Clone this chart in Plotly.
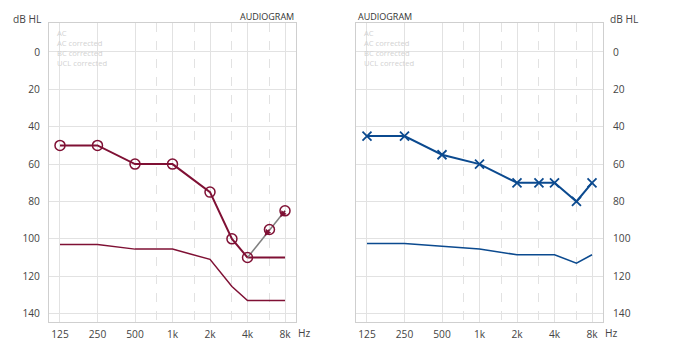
import plotly.graph_objects as go
import math

# ---- data ----
freq_ticks = [125, 250, 500, 1000, 2000, 4000, 8000]
freq_tick_labels = ["125", "250", "500", "1k", "2k", "4k", "8k"]
half_octaves = [750, 1500, 3000, 6000]
db_ticks = [0, 20, 40, 60, 80, 100, 120, 140]
legend_labels = ["AC", "AC corrected", "BC corrected", "UCL corrected"]

left_ac_freq = [125, 250, 500, 1000, 2000, 3000, 4000]
left_ac_db = [50, 50, 60, 60, 75, 100, 110]
left_nr_freq = [4000, 8000]
left_nr_db = [110, 110]
left_corr_freq = [4000, 6000, 8000]
left_corr_db = [110, 95, 85]
left_ucl_freq = [125, 250, 500, 1000, 2000, 3000, 4000, 8000]
left_ucl_db = [103, 103, 105.5, 105.5, 111, 125.5, 133, 133]

right_ac_freq = [125, 250, 500, 1000, 2000, 3000, 4000, 6000, 8000]
right_ac_db = [45, 45, 55, 60, 70, 70, 70, 80, 70]
right_ucl_freq = [125, 250, 500, 1000, 2000, 4000, 6000, 8000]
right_ucl_db = [102.5, 102.5, 104, 105.5, 108.5, 108.5, 113, 108.5]

RED = "#7f1034"
BLUE = "#0b4a8f"
GRAY = "#808080"
FONT = "Open Sans"
TICK = 10.2

fig = go.Figure()

# left
fig.add_trace(go.Scatter(x=left_ucl_freq, y=left_ucl_db, mode="lines",
                         line=dict(color=RED, width=1.5), xaxis="x", yaxis="y"))
fig.add_trace(go.Scatter(x=left_nr_freq, y=left_nr_db, mode="lines",
                         line=dict(color=RED, width=2), xaxis="x", yaxis="y"))
fig.add_trace(go.Scatter(x=left_corr_freq, y=left_corr_db, mode="lines",
                         line=dict(color=GRAY, width=1.5), xaxis="x", yaxis="y"))
fig.add_trace(go.Scatter(x=left_corr_freq[1:], y=left_corr_db[1:], mode="markers",
                         marker=dict(symbol="circle-open", size=10, color=RED,
                                     line=dict(width=1.5, color=RED)),
                         xaxis="x", yaxis="y"))
fig.add_trace(go.Scatter(x=left_ac_freq, y=left_ac_db, mode="lines+markers",
                         line=dict(color=RED, width=2),
                         marker=dict(symbol="circle-open", size=10, color=RED,
                                     line=dict(width=1.5, color=RED)),
                         xaxis="x", yaxis="y"))

# right
fig.add_trace(go.Scatter(x=right_ucl_freq, y=right_ucl_db, mode="lines",
                         line=dict(color=BLUE, width=1.5), xaxis="x2", yaxis="y2"))
fig.add_trace(go.Scatter(x=right_ac_freq, y=right_ac_db, mode="lines+markers",
                         line=dict(color=BLUE, width=2),
                         marker=dict(symbol="x-thin", size=9, color=BLUE,
                                     line=dict(width=1.8, color=BLUE)),
                         xaxis="x2", yaxis="y2"))

W, H = 690, 348
xr = [math.log10(125) - 0.293 * math.log10(2), math.log10(8000) + 0.293 * math.log10(2)]
ydom = [1 - 322 / H, 1 - 23 / H]

def xaxis(dom, anchor):
    return dict(domain=dom, anchor=anchor, type="log", range=xr,
                tickmode="array", tickvals=freq_ticks, ticktext=freq_tick_labels,
                showgrid=True, gridcolor="#e2e2e2", gridwidth=1,
                minor=dict(tickmode="array", tickvals=half_octaves, showgrid=True,
                           gridcolor="#e2e2e2", griddash="dash", ticks=""),
                showline=True, linecolor="#cfcfcf", mirror=True, zeroline=False,
                ticks="", ticklabelstandoff=3,
                tickfont=dict(family=FONT, size=TICK, color="#444"), fixedrange=True)

def yaxis(dom, anchor, side):
    return dict(domain=dom, anchor=anchor, range=[144.5, -15.5], side=side,
                tickmode="array", tickvals=db_ticks,
                showgrid=True, gridcolor="#e2e2e2", gridwidth=1,
                showline=True, linecolor="#cfcfcf", mirror=True, zeroline=False,
                ticks="", ticklabelstandoff=6 if side == "left" else 7,
                tickfont=dict(family=FONT, size=TICK, color="#444"), fixedrange=True)

x1 = [49 / W, 296 / W]
x2 = [356 / W, 603 / W]

legend_text = "<br>".join(legend_labels)
annotations = []
for xref, yref in (("x domain", "y domain"), ("x2 domain", "y2 domain")):
    annotations.append(dict(text=legend_text, xref=xref, yref=yref, x=0.03,
                            y=1 - 4 / 299, xanchor="left", yanchor="top", align="left",
                            showarrow=False, borderpad=0,
                            font=dict(family=FONT, size=7.6, color="#d2d2d2")))

# direction arrows on the corrected (gray) segment, just below-left of each circle
for fx, fy in zip(left_corr_freq[1:], left_corr_db[1:]):
    annotations.append(dict(x=math.log10(fx), y=fy, xref="x", yref="y", text="",
                            showarrow=True, arrowside="start", startarrowhead=2,
                            startarrowsize=1, arrowwidth=1.3, arrowcolor=RED,
                            ax=-6, ay=8, standoff=0, startstandoff=0))

annotations += [
    dict(text="AUDIOGRAM", xref="paper", yref="paper", x=x1[1], y=1 - 17 / H,
         xanchor="right", yanchor="middle", showarrow=False,
         font=dict(family=FONT, size=9, color="#333")),
    dict(text="AUDIOGRAM", xref="paper", yref="paper", x=x2[0], y=1 - 17 / H,
         xanchor="left", yanchor="middle", showarrow=False,
         font=dict(family=FONT, size=9, color="#333")),
    dict(text="dB HL", xref="paper", yref="paper", x=44 / W, y=1 - 19 / H,
         xanchor="right", yanchor="middle", showarrow=False,
         font=dict(family=FONT, size=TICK, color="#444")),
    dict(text="dB HL", xref="paper", yref="paper", x=608 / W, y=1 - 19 / H,
         xanchor="left", yanchor="middle", showarrow=False,
         font=dict(family=FONT, size=TICK, color="#444")),
    dict(text="Hz", xref="paper", yref="paper", x=296 / W, y=1 - 333 / H,
         xanchor="left", yanchor="middle", showarrow=False,
         font=dict(family=FONT, size=TICK, color="#444")),
    dict(text="Hz", xref="paper", yref="paper", x=603 / W, y=1 - 333 / H,
         xanchor="left", yanchor="middle", showarrow=False,
         font=dict(family=FONT, size=TICK, color="#444")),
]

fig.update_layout(
    width=W, height=H, margin=dict(l=0, r=0, t=0, b=0, pad=0),
    paper_bgcolor="white", plot_bgcolor="white", showlegend=False,
    font=dict(family=FONT),
    xaxis=xaxis(x1, "y"), yaxis=yaxis(ydom, "x", "left"),
    xaxis2=xaxis(x2, "y2"), yaxis2=yaxis(ydom, "x2", "right"),
    annotations=annotations,
)

fig.write_html("out.html", config={"displayModeBar": False})
